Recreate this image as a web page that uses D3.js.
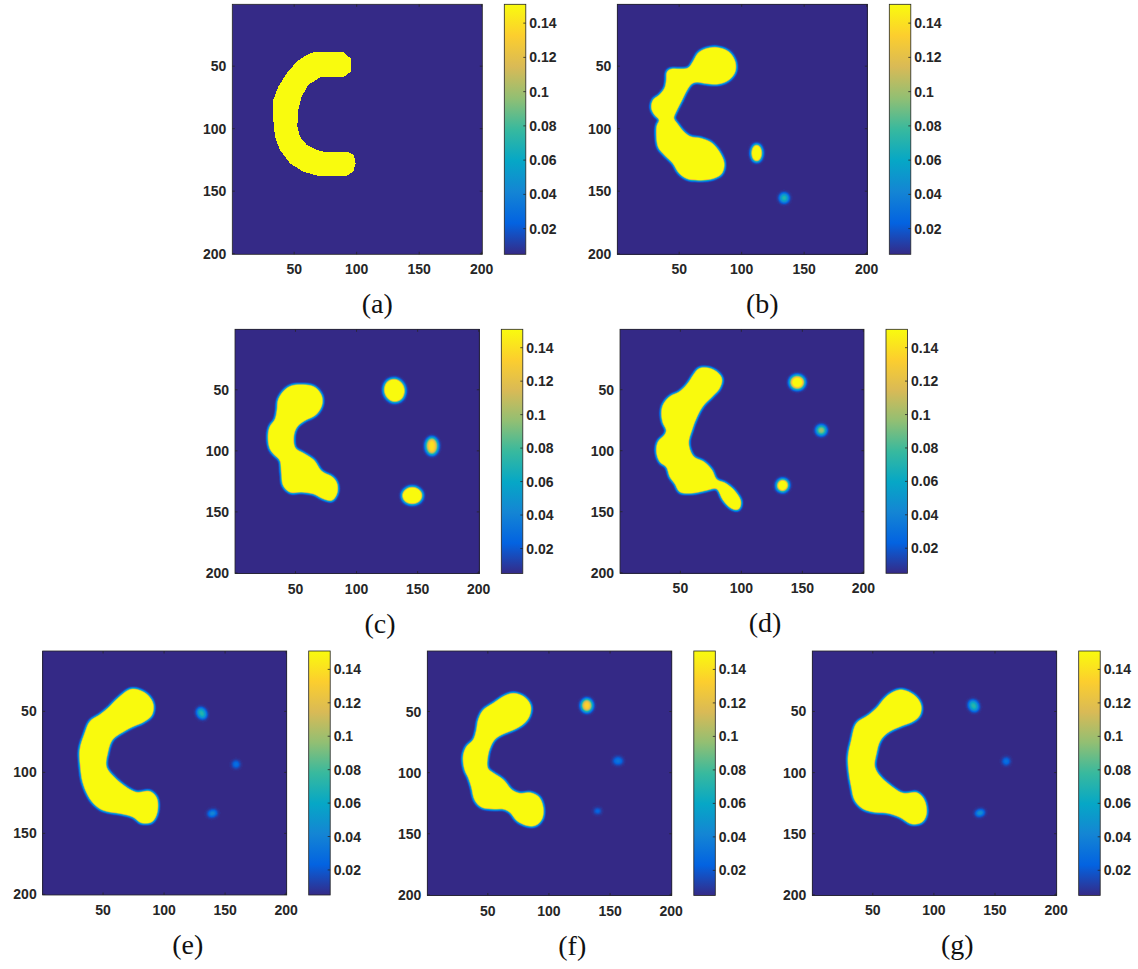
<!DOCTYPE html>
<html>
<head>
<meta charset="utf-8">
<script src="https://cdn.jsdelivr.net/npm/d3@7"></script>
<style>
  body { margin: 0; background: #fff; }
  svg { display: block; }
</style>
</head>
<body>
<script>
const svgWidth = 1138
const svgHeight = 969

// data: outlines of the yellow region (column, row in image units)
const shapeA = [[65.3,38.9],[89.3,38.9],[95.2,43.7],[95.2,54.4],[89.3,58.9],[70.6,58.9],[61.3,65.0],[56.0,74.4],
  [53.3,85.0],[52.5,98.4],[54.6,106.4],[60.0,113.0],[68.0,117.0],[73.3,118.4],[92.0,118.4],[97.8,121.0],
  [99.2,127.7],[97.3,134.4],[92.0,137.8],[69.3,137.8],[57.3,134.4],[46.6,127.7],[38.6,117.0],[34.6,106.4],
  [33.3,93.0],[33.3,77.0],[37.3,66.4],[44.0,55.7],[52.0,46.4],[60.0,41.0]]
const shapeB = [[69.3,37.0],[80.0,35.2],[89.3,38.4],[94.6,46.4],[94.6,54.4],[89.3,61.0],[80.0,64.2],[72.0,63.7],
  [64.0,62.4],[60.0,63.7],[56.0,69.0],[52.0,77.0],[46.6,87.7],[45.3,91.7],[48.0,95.7],[53.3,102.4],[58.6,106.4],
  [66.6,107.7],[76.0,111.7],[82.6,119.7],[85.8,127.7],[84.0,135.7],[77.3,139.7],[66.6,141.0],[56.0,139.7],
  [49.3,134.4],[45.3,127.7],[37.3,119.7],[33.3,114.4],[32.0,103.7],[32.5,97.0],[34.6,93.0],[30.6,89.0],
  [28.0,83.7],[29.3,77.0],[34.6,73.0],[38.6,67.7],[40.0,61.0],[40.5,54.4],[44.0,52.5],[50.6,52.5],
  [57.3,51.7],[61.3,46.4],[65.3,39.7]]
const shapeC = [[53.8,46.1],[64.7,47.5],[71.0,54.3],[71.5,62.5],[66.1,70.7],[57.9,74.8],[51.0,80.3],[48.3,88.5],
  [49.7,98.0],[56.5,102.1],[64.7,107.6],[71.5,117.2],[79.7,121.3],[83.8,126.7],[83.8,134.9],[79.7,140.4],
  [72.9,139.0],[64.7,134.9],[56.5,133.6],[45.6,133.6],[40.1,128.1],[38.8,118.5],[37.4,107.6],[33.3,103.5],
  [29.2,98.0],[27.8,88.5],[29.2,80.3],[33.3,74.8],[35.2,66.6],[36.0,58.4],[41.5,50.2],[46.9,46.9]]
const shapeD = [[66.1,32.5],[77.0,33.8],[83.8,40.7],[81.9,48.9],[75.6,55.7],[68.8,62.5],[63.3,72.1],[59.2,83.0],
  [56.5,93.9],[60.6,104.9],[68.8,109.0],[75.6,115.8],[79.7,124.0],[86.6,126.7],[94.8,133.6],[99.4,141.8],
  [97.5,148.0],[92.0,147.2],[85.2,140.4],[79.7,130.8],[71.5,132.2],[60.6,134.4],[49.7,133.6],[45.6,126.7],
  [41.5,121.3],[38.8,113.1],[33.3,109.0],[30.6,100.8],[31.9,92.6],[37.4,87.1],[38.8,83.0],[36.0,77.5],
  [34.7,69.4],[36.0,62.5],[41.5,55.7],[49.7,51.6],[56.5,44.8],[60.6,38.4]]
const shapeE = [[73.5,31.9],[84.4,35.2],[90.7,43.4],[89.8,53.0],[83.0,58.4],[73.5,62.5],[63.9,68.0],[57.1,73.5],
  [53.5,84.4],[52.4,95.3],[58.4,103.5],[68.0,111.7],[77.5,116.6],[88.5,115.8],[93.9,121.3],[93.9,133.6],
  [89.8,140.4],[81.6,141.2],[74.8,136.3],[65.3,133.6],[55.7,132.2],[47.5,129.5],[39.3,121.3],[33.8,109.0],
  [31.6,95.3],[31.1,81.6],[35.2,68.0],[39.3,58.4],[47.5,53.0],[54.3,47.5],[62.5,39.3]]
const shapeF = [[71.0,35.2],[79.2,37.9],[84.7,44.8],[84.1,53.0],[79.2,59.8],[71.0,64.7],[62.8,68.0],[56.0,72.1],
  [51.9,78.9],[49.7,87.1],[49.7,96.7],[54.6,100.8],[62.8,106.2],[69.6,114.4],[76.5,117.2],[84.7,116.6],
  [91.5,119.9],[95.0,128.1],[94.2,137.7],[88.8,143.1],[81.9,143.1],[73.7,139.0],[68.3,132.2],[62.8,129.5],
  [54.6,129.5],[45.0,128.1],[39.6,122.6],[36.8,111.7],[34.1,103.5],[31.4,98.0],[30.0,87.1],[32.7,78.9],
  [38.2,73.5],[40.9,65.3],[42.3,57.1],[46.4,48.9],[54.6,43.4],[62.8,37.9]]
const shapeG = [[72.4,32.5],[83.3,36.6],[89.3,44.8],[88.2,53.0],[81.9,58.4],[72.4,62.0],[62.8,66.6],[56.0,73.5],
  [52.7,84.4],[51.3,95.3],[56.0,103.5],[65.5,111.7],[75.1,117.2],[86.0,116.6],[92.0,122.6],[93.7,133.6],
  [90.1,140.4],[81.9,141.8],[72.4,136.3],[62.8,133.0],[51.9,132.2],[42.3,129.5],[35.5,122.6],[32.7,111.7],
  [30.8,100.8],[30.0,87.1],[32.7,73.5],[36.8,59.8],[45.0,54.3],[53.2,47.5],[61.4,37.9]]

// data: small spots [column, row, radius x, radius y, tilt deg, peak value]
const dotsB = [[112.0,119.5,3.8,6.4,0,0.25],[134.0,155.5,3.6,3.6,0,0.075]]
const dotsC = [[131.0,50.5,8.0,9.0,-15,0.3],[161.7,96.0,4.8,7.0,0,0.14],[145.6,136.6,7.8,6.5,0,0.3]]
const dotsD = [[145.8,44.0,6.0,5.6,0,0.16],[165.5,83.3,4.0,4.0,0,0.1],[133.8,128.4,4.5,4.8,20,0.2]]
const dotsE = [[130.8,51.5,3.4,4.6,-30,0.075],[159.0,93.4,2.8,2.8,0,0.035],[139.6,133.6,3.6,2.4,-15,0.05]]
const dotsF = [[131.0,45.0,4.5,5.2,0,0.135],[156.5,90.4,3.8,3.0,0,0.035],[139.8,131.4,2.6,1.9,0,0.035]]
const dotsG = [[132.5,45.3,3.6,4.6,-30,0.075],[159.2,90.7,2.8,2.8,0,0.035],[137.7,133.0,3.5,2.2,-15,0.06]]

const axisTicks = [50, 100, 150, 200]
const cbTicks = [0.02, 0.04, 0.06, 0.08, 0.1, 0.12, 0.14]
const cbTickLabels = ["0.02", "0.04", "0.06", "0.08", "0.1", "0.12", "0.14"]
const cbRange = [0.005, 0.151]
const panelLabels = ["(a)", "(b)", "(c)", "(d)", "(e)", "(f)", "(g)"]

// parula-like colormap
const parulaStops = ["#352a87", "#0363e1", "#1485d4", "#06a7c6", "#38b99e", "#92bf73", "#d9ba56", "#fcce2e", "#f9fb0e"]
const parula = d3.scaleLinear()
  .domain(parulaStops.map((c, i) => i / (parulaStops.length - 1)))
  .range(parulaStops)
  .interpolate(d3.interpolateRgb)
  .clamp(true)

const gain = 1.7
const axisColor = "#262626"

const panels = [
  { shape: shapeA, dots: [],    left: 232.3, top: 4.3,   size: 250,   blur: 0 },
  { shape: shapeB, dots: dotsB, left: 617.3, top: 4.3,   size: 250,   blur: 1.4 },
  { shape: shapeC, dots: dotsC, left: 235,   top: 329.3, size: 244.3, blur: 1.4 },
  { shape: shapeD, dots: dotsD, left: 620,   top: 329.3, size: 244,   blur: 1.4 },
  { shape: shapeE, dots: dotsE, left: 42.7,  top: 651,   size: 244,   blur: 1.4 },
  { shape: shapeF, dots: dotsF, left: 427.3, top: 651,   size: 244.5, blur: 1.4 },
  { shape: shapeG, dots: dotsG, left: 812.3, top: 651,   size: 244.4, blur: 1.4 }
]

const svg = d3.select("body").append("svg")
  .attr("width", svgWidth)
  .attr("height", svgHeight)

const defs = svg.append("defs")

// colour table for the filter that maps blurred alpha to the colormap
const samples = d3.range(33).map(i => d3.rgb(parula(i / 32)))
const table = ch => samples.map(c => (c[ch] / 255).toFixed(4)).join(" ")

const grad = defs.append("linearGradient").attr("id", "cbgrad")
  .attr("x1", 0).attr("y1", 1).attr("x2", 0).attr("y2", 0)
grad.selectAll("stop").data(parulaStops).join("stop")
  .attr("offset", (d, i) => i / (parulaStops.length - 1))
  .attr("stop-color", d => d)

defs.append("filter").attr("id", "dotblur")
  .attr("x", "-150%").attr("y", "-150%").attr("width", "400%").attr("height", "400%")
  .append("feGaussianBlur").attr("stdDeviation", 1.2)

const valueToAlpha = v => Math.min(1, (v - cbRange[0]) / (cbRange[1] - cbRange[0]) / gain)

panels.forEach((p, i) => {
  const x = d3.scaleLinear().domain([0.5, 200.5]).range([p.left, p.left + p.size])
  const y = d3.scaleLinear().domain([0.5, 200.5]).range([p.top, p.top + p.size])
  const right = p.left + p.size
  const bottom = p.top + p.size

  const g = svg.append("g")

  if (p.blur === 0) {
    g.append("rect")
      .attr("x", p.left).attr("y", p.top)
      .attr("width", p.size).attr("height", p.size)
      .attr("fill", parula(0))
    g.append("path")
      .datum(p.shape)
      .attr("d", d3.line().x(d => x(d[0])).y(d => y(d[1])).curve(d3.curveLinearClosed))
      .attr("fill", parula(1))
      .attr("shape-rendering", "crispEdges")
  } else {
    const f = defs.append("filter").attr("id", "cm" + i)
      .attr("filterUnits", "userSpaceOnUse")
      .attr("x", p.left).attr("y", p.top)
      .attr("width", p.size).attr("height", p.size)
      .attr("color-interpolation-filters", "sRGB")
    f.append("feGaussianBlur").attr("in", "SourceAlpha").attr("stdDeviation", p.blur).attr("result", "b")
    f.append("feColorMatrix").attr("in", "b").attr("type", "matrix")
      .attr("values", `0 0 0 ${gain} 0  0 0 0 ${gain} 0  0 0 0 ${gain} 0  0 0 0 0 1`)
      .attr("result", "v")
    const ct = f.append("feComponentTransfer").attr("in", "v")
    ct.append("feFuncR").attr("type", "table").attr("tableValues", table("r"))
    ct.append("feFuncG").attr("type", "table").attr("tableValues", table("g"))
    ct.append("feFuncB").attr("type", "table").attr("tableValues", table("b"))

    const img = g.append("g").attr("filter", `url(#cm${i})`)
    img.append("rect")
      .attr("x", p.left).attr("y", p.top)
      .attr("width", p.size).attr("height", p.size)
      .attr("fill", "#000").attr("fill-opacity", 0)
    img.append("path")
      .datum(p.shape)
      .attr("d", d3.line().x(d => x(d[0])).y(d => y(d[1])).curve(d3.curveCatmullRomClosed.alpha(0.5)))
      .attr("fill", "#000")
    img.selectAll("ellipse").data(p.dots).join("ellipse")
      .attr("transform", d => `translate(${x(d[0])},${y(d[1])}) rotate(${d[4]})`)
      .attr("rx", d => x(d[2]) - x(0))
      .attr("ry", d => y(d[3]) - y(0))
      .attr("fill", "#000")
      .attr("fill-opacity", d => valueToAlpha(d[5]))
      .attr("filter", "url(#dotblur)")
  }

  // box and ticks
  g.append("rect")
    .attr("x", p.left).attr("y", p.top)
    .attr("width", p.size).attr("height", p.size)
    .attr("fill", "none").attr("stroke", axisColor).attr("stroke-width", 0.8)

  const tl = 2.5
  axisTicks.forEach(t => {
    g.append("line").attr("x1", x(t)).attr("x2", x(t)).attr("y1", bottom).attr("y2", bottom - tl)
      .attr("stroke", axisColor).attr("stroke-width", 0.8)
    g.append("line").attr("x1", x(t)).attr("x2", x(t)).attr("y1", p.top).attr("y2", p.top + tl)
      .attr("stroke", axisColor).attr("stroke-width", 0.8)
    g.append("line").attr("y1", y(t)).attr("y2", y(t)).attr("x1", p.left).attr("x2", p.left + tl)
      .attr("stroke", axisColor).attr("stroke-width", 0.8)
    g.append("line").attr("y1", y(t)).attr("y2", y(t)).attr("x1", right).attr("x2", right - tl)
      .attr("stroke", axisColor).attr("stroke-width", 0.8)
  })

  const font = g => g.attr("font-family", "'Liberation Sans', Arial, sans-serif")
    .attr("font-weight", "bold").attr("font-size", 14).attr("fill", axisColor)

  g.append("g").call(font)
    .selectAll("text").data(axisTicks).join("text")
    .attr("x", d => x(d)).attr("y", bottom + 20)
    .attr("text-anchor", "middle")
    .text(d => d)

  g.append("g").call(font)
    .selectAll("text").data(axisTicks).join("text")
    .attr("x", p.left - 6).attr("y", d => y(d) + 5)
    .attr("text-anchor", "end")
    .text(d => d)

  // colorbar
  const cbLeft = right + 22
  const cbWidth = 21.5
  const cy = d3.scaleLinear().domain(cbRange).range([bottom, p.top])

  g.append("rect")
    .attr("x", cbLeft).attr("y", p.top)
    .attr("width", cbWidth).attr("height", p.size)
    .attr("fill", "url(#cbgrad)")
    .attr("stroke", axisColor).attr("stroke-width", 0.8)

  cbTicks.forEach(t => {
    g.append("line")
      .attr("x1", cbLeft + cbWidth).attr("x2", cbLeft + cbWidth - 2.5)
      .attr("y1", cy(t)).attr("y2", cy(t))
      .attr("stroke", axisColor).attr("stroke-width", 0.8)
  })

  g.append("g").call(font)
    .selectAll("text").data(cbTicks).join("text")
    .attr("x", cbLeft + cbWidth + 3.5).attr("y", d => cy(d) + 5)
    .text((d, k) => cbTickLabels[k])

  g.append("text")
    .attr("x", p.left + 145).attr("y", bottom + 59)
    .attr("text-anchor", "middle")
    .attr("font-family", "'Liberation Serif', 'Times New Roman', serif")
    .attr("font-size", 28)
    .attr("fill", "#111")
    .text(panelLabels[i])
})
</script>
</body>
</html>
